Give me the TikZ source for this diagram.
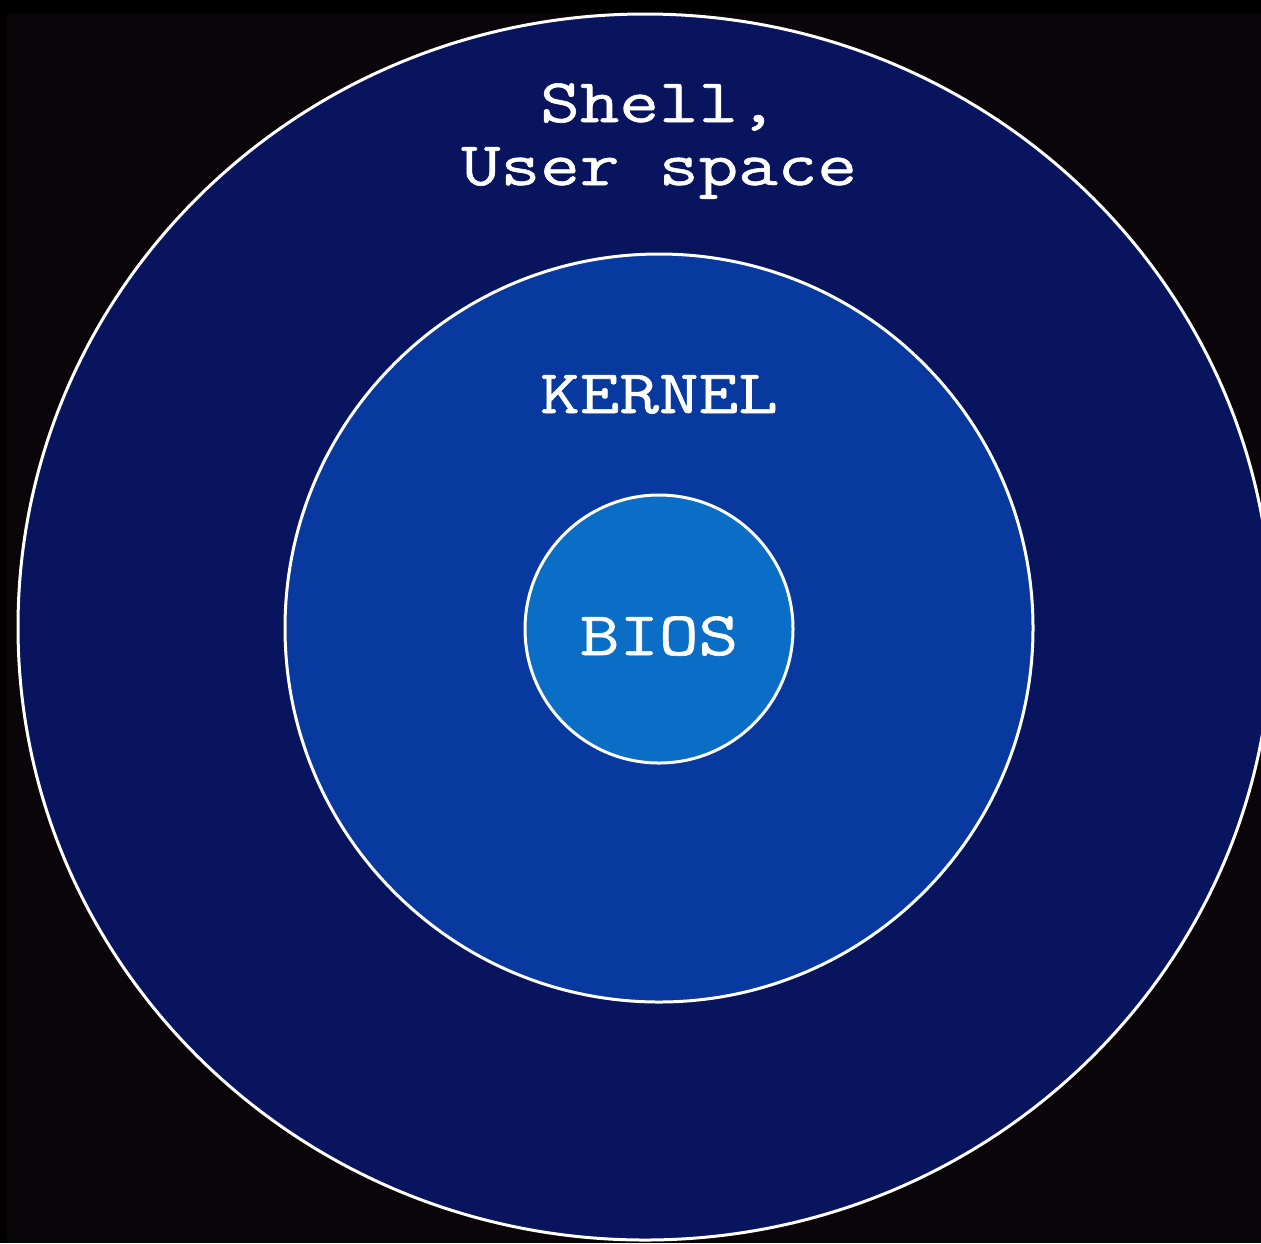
\documentclass[tikz,border=0pt]{standalone}
\usepackage{fontspec}
\newfontfamily\layerfont[FakeStretch=1.24, FakeBold=1]{Latin Modern Mono}
\usetikzlibrary{shapes.geometric}

\definecolor{frameblack}{HTML}{000000}
\definecolor{bgblack}{HTML}{0A0508}
\definecolor{shellblue}{HTML}{08145E}
\definecolor{kernelblue}{HTML}{08399E}
\definecolor{biosblue}{HTML}{0A6EC6}

\tikzset{
	layer/.style={draw=white, line width=1.5pt, inner sep=0pt, outer sep=0pt},
	layerlabel/.style={text=white, font=\layerfont\fontsize{31pt}{31.5pt}\selectfont, inner sep=0pt, align=center}
}

\begin{document}
\begin{tikzpicture}[x=0.5pt, y=-0.5pt]
		\useasboundingbox (0,0) rectangle (1261,1243);
		\clip (0,0) rectangle (1261,1243);
		\fill[frameblack] (0,0) rectangle (1261,1243);
		\fill[bgblack] (7,13) rectangle (1261,1243);

		\node[layer, ellipse, fill=shellblue, minimum width=627pt, minimum height=613pt] (shell) at (645,627) {};
		\node[layer, circle, fill=kernelblue, minimum size=374pt] (kernel) at (659,628) {};
		\node[layer, circle, fill=biosblue, minimum size=134pt] (bios) at (659,629) {};

		\node[layerlabel, anchor=base] (shelltext) at (659,185) {Shell,\\User space};
		\node[layerlabel, anchor=base] (kerneltext) at (659,413) {KERNEL};
		\node[layerlabel, anchor=base] (biostext) at (659,655) {BIOS};

\end{tikzpicture}
\end{document}
